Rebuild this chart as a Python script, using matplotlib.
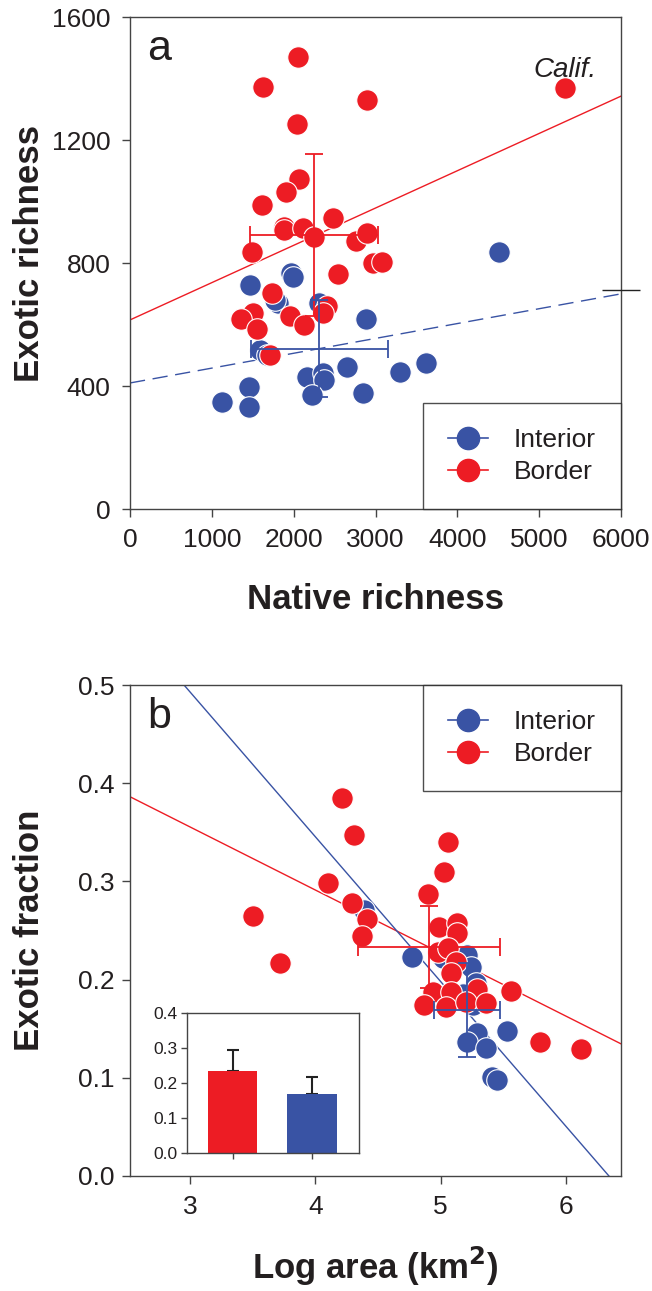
import matplotlib
matplotlib.use("Agg")
import matplotlib.pyplot as plt
from matplotlib.lines import Line2D
import numpy as np

plt.rcParams['font.family'] = ['Liberation Sans', 'DejaVu Sans']

RED = '#ED1C24'
BLUE = '#3953A4'
TXT = '#231F20'

# ---- panel a: native vs exotic richness ----
border_native = [2054, 1626, 2897, 2042, 2066, 1907, 1614, 1883, 1883, 2115, 2249, 2482, 2763, 2897,
                 1491, 2971, 3081, 2543, 1736, 2408, 2359, 1504, 1357, 1553, 1956, 2127, 1711, 5318]
border_exotic = [1470, 1372, 1330, 1252, 1073, 1031, 989, 917, 907, 914, 885, 946, 872, 898,
                 836, 800, 803, 764, 702, 660, 637, 637, 618, 585, 628, 598, 501, 1369]
interior_native = [1968, 1993, 1467, 1809, 1773, 2311, 2885, 1589, 1675, 2164, 2359, 2372, 2653,
                   3301, 3619, 1455, 1125, 1455, 2225, 2848, 4511]
interior_exotic = [767, 755, 728, 670, 680, 670, 618, 517, 501, 429, 442, 420, 462,
                   446, 475, 397, 348, 332, 371, 377, 836]
calif = (5318, 1369)

# means +/- sd
border_mean_a = (2249, 891)
border_err_a = (782, 263)
interior_mean_a = (2311, 522)
interior_err_a = (837, 158)

# regression lines (intercept, slope)
border_fit_a = (615, 0.1213)
interior_fit_a = (410, 0.0483)

# ---- panel b: log area vs exotic fraction ----
border_area = [3.50, 3.72, 4.10, 4.21, 4.31, 4.29, 4.41, 4.37, 5.06, 5.03, 4.90, 4.99, 5.13, 5.13,
               4.98, 5.06, 5.12, 5.08, 4.94, 5.08, 5.29, 4.87, 5.04, 5.20, 5.36, 5.56, 5.79, 6.12]
border_frac = [0.265, 0.217, 0.298, 0.385, 0.347, 0.278, 0.262, 0.244, 0.340, 0.310, 0.287, 0.254,
               0.258, 0.247, 0.228, 0.232, 0.218, 0.207, 0.187, 0.187, 0.190, 0.174, 0.172, 0.177,
               0.176, 0.188, 0.136, 0.129]
interior_area = [4.39, 4.77, 5.21, 5.24, 5.28, 5.26, 5.02, 5.18, 5.53, 5.29, 5.21, 5.36, 5.41, 5.45]
interior_frac = [0.271, 0.223, 0.225, 0.213, 0.197, 0.174, 0.222, 0.185, 0.148, 0.146, 0.136,
                 0.130, 0.101, 0.098]

border_mean_b = (4.905, 0.233)
border_err_b = (0.565, 0.042)
interior_mean_b = (5.21, 0.169)
interior_err_b = (0.265, 0.048)

border_fit_b = (0.548, -0.0642)
interior_fit_b = (0.935, -0.1474)

# inset bars
bar_groups = ['Border', 'Interior']
bar_means = [0.235, 0.170]
bar_err = [0.060, 0.048]

fig = plt.figure(figsize=(6.52, 12.91), dpi=100)
ax1 = fig.add_axes([0.1994, 0.6057, 0.7531, 0.3811])
ax2 = fig.add_axes([0.1994, 0.0891, 0.7531, 0.3803])

msize = 15.5


def style_axes(ax):
    for s in ax.spines.values():
        s.set_linewidth(1.0)
        s.set_color('#444444')
    ax.tick_params(direction='out', length=6, width=1.0, color='#444444',
                   labelsize=19, labelcolor=TXT, top=False, right=False, pad=8)


def legend(ax, loc, anchor):
    handles = [Line2D([], [], color=BLUE, marker='o', markersize=16, lw=1.2,
                      markeredgecolor=BLUE),
               Line2D([], [], color=RED, marker='o', markersize=16, lw=1.2,
                      markeredgecolor=RED)]
    leg = ax.legend(handles, ['Interior', 'Border'], loc=loc, bbox_to_anchor=anchor,
                    fontsize=19, frameon=True, fancybox=False, borderaxespad=0,
                    handlelength=1.5, handletextpad=1.0, borderpad=0.95,
                    labelspacing=0.3, labelcolor=TXT)
    leg.get_frame().set_edgecolor('#222222')
    leg.get_frame().set_linewidth(1.0)
    return leg


# panel a
xx = np.array([0, 6000])
ax1.plot(xx, border_fit_a[0] + border_fit_a[1] * xx, color=RED, lw=1.0, zorder=1)
ax1.plot(xx, interior_fit_a[0] + interior_fit_a[1] * xx, color=BLUE, lw=1.0,
         dashes=(11, 5.5), zorder=1)
ax1.plot(interior_native, interior_exotic, 'o', color=BLUE, markersize=msize,
         markeredgecolor='white', markeredgewidth=0.8, zorder=2)
ax1.plot(border_native, border_exotic, 'o', color=RED, markersize=msize,
         markeredgecolor='white', markeredgewidth=0.8, zorder=3)
ax1.errorbar(*border_mean_a, xerr=border_err_a[0], yerr=border_err_a[1], fmt='none',
             ecolor=RED, elinewidth=1.3, capsize=6.5, capthick=1.3, zorder=4)
ax1.errorbar(*interior_mean_a, xerr=interior_err_a[0], yerr=interior_err_a[1], fmt='none',
             ecolor=BLUE, elinewidth=1.3, capsize=6.5, capthick=1.3, zorder=4)
ax1.annotate('Calif.', xy=calif, xytext=(0, 8), textcoords='offset points', ha='center',
             va='baseline', style='italic', fontsize=20, color=TXT)
ax1.text(0.035, 0.975, 'a', transform=ax1.transAxes, ha='left', va='top', fontsize=31,
         color=TXT)
ax1.set_xlim(0, 6000)
ax1.set_ylim(0, 1600)
ax1.set_xticks(range(0, 6001, 1000))
ax1.set_yticks(range(0, 1601, 400))
style_axes(ax1)
ax1.set_xlabel('Native richness', fontsize=25, fontweight='bold', color=TXT, labelpad=22)
ax1.set_ylabel('Exotic richness', fontsize=25, fontweight='bold', color=TXT)
ax1.yaxis.set_label_coords(-0.171, 0.52)
legend(ax1, 'lower right', (1, 0))

# odd mark on right spine
axr = ax1.twinx()
axr.set_ylim(ax1.get_ylim())
axr.set_yticks([712])
axr.tick_params(direction='inout', length=28, width=1.0, color='#222222', labelright=False)
for s in axr.spines.values():
    s.set_visible(False)

# panel b
xb = np.array([2.5, 6.45])
ax2.plot(xb, border_fit_b[0] + border_fit_b[1] * xb, color=RED, lw=1.0, zorder=1)
ax2.plot(xb, interior_fit_b[0] + interior_fit_b[1] * xb, color=BLUE, lw=1.0, zorder=1)
ax2.plot(interior_area, interior_frac, 'o', color=BLUE, markersize=msize,
         markeredgecolor='white', markeredgewidth=0.8, zorder=2)
ax2.plot(border_area, border_frac, 'o', color=RED, markersize=msize,
         markeredgecolor='white', markeredgewidth=0.8, zorder=3)
ax2.errorbar(*border_mean_b, xerr=border_err_b[0], yerr=border_err_b[1], fmt='none',
             ecolor=RED, elinewidth=1.3, capsize=6.5, capthick=1.3, zorder=4)
ax2.errorbar(*interior_mean_b, xerr=interior_err_b[0], yerr=interior_err_b[1], fmt='none',
             ecolor=BLUE, elinewidth=1.3, capsize=6.5, capthick=1.3, zorder=4)
ax2.text(0.035, 0.975, 'b', transform=ax2.transAxes, ha='left', va='top', fontsize=31,
         color=TXT)
ax2.set_xlim(2.52, 6.44)
ax2.set_ylim(0, 0.5)
ax2.set_xticks([3, 4, 5, 6])
ax2.set_yticks([0.0, 0.1, 0.2, 0.3, 0.4, 0.5])
ax2.set_yticklabels(['0.0', '0.1', '0.2', '0.3', '0.4', '0.5'])
style_axes(ax2)
ax2.tick_params(axis='y', pad=5)
ax2.set_xlabel('Log area (km$^\\mathbf{2}$)', fontsize=25, fontweight='bold', color=TXT,
               labelpad=18)
ax2.set_ylabel('Exotic fraction', fontsize=25, fontweight='bold', color=TXT)
ax2.yaxis.set_label_coords(-0.171, 0.5)
legend(ax2, 'upper right', (1, 1))

# inset bar chart
axi = fig.add_axes([0.2868, 0.1069, 0.2638, 0.1084])
axi.bar([1, 2], bar_means, width=0.62, color=[RED, BLUE], zorder=2)
axi.errorbar([1, 2], bar_means, yerr=[[0, 0], bar_err], fmt='none', ecolor='#222222',
             elinewidth=1.5, capsize=4.5, capthick=1.5, zorder=1)
axi.set_xlim(0.42, 2.594)
axi.set_ylim(0, 0.4)
axi.set_xticks([1, 2])
axi.set_xticklabels([])
axi.set_yticks([0.0, 0.1, 0.2, 0.3, 0.4])
axi.set_yticklabels(['0.0', '0.1', '0.2', '0.3', '0.4'])
for s in axi.spines.values():
    s.set_linewidth(1.0)
    s.set_color('#444444')
axi.tick_params(direction='out', length=4, width=1.0, color='#444444', labelsize=12.5,
                labelcolor=TXT, pad=3)

fig.savefig('out.png', dpi=100)
